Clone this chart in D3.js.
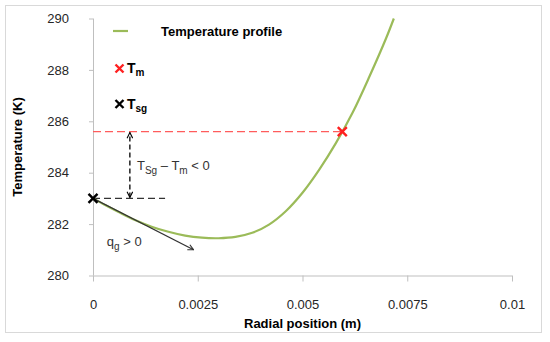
<!DOCTYPE html>
<html>
<head>
<meta charset="utf-8">
<script src="https://cdn.jsdelivr.net/npm/d3@7"></script>
<style>
  body { margin: 0; background: #fff; }
  svg { font-family: "Liberation Sans", Arial, sans-serif; }
</style>
</head>
<body>
<div class="content-container"></div>
<script>
// curve
var radius = [0, 0.0003, 0.0006, 0.001, 0.0014, 0.0018, 0.0022, 0.0026, 0.003, 0.0034,
              0.0038, 0.0042, 0.0046, 0.005, 0.0054, 0.0058, 0.0062, 0.0066, 0.007, 0.00718];
var temperature = [283.0, 282.73, 282.48, 282.16, 281.9, 281.7, 281.55, 281.47, 281.45, 281.5,
                   281.66, 281.98, 282.5, 283.22, 284.12, 285.16, 286.35, 287.75, 289.25, 290.0];

var xTicks = [0, 0.0025, 0.005, 0.0075, 0.01];
var xTickLabels = ["0", "0.0025", "0.005", "0.0075", "0.01"];
var yTicks = [280, 282, 284, 286, 288, 290];

// markers and annotations (data units)
var surfacePoint = [0, 283.0];
var meltPoint = [0.00595, 285.6];
var fluxArrowEnd = [0.0024, 281.0];
var dashEndX = 0.00172;
var diffArrowX = 0.00088;
var diffLabelPos = [0.00105, 284.3];
var fluxLabelPos = [0.00033, 281.3];

const width = 550;
const height = 342;

const xScale = d3.scaleLinear().domain([0, 0.01]).range([93, 512]);
const yScale = d3.scaleLinear().domain([280, 290]).range([275.5, 18.5]);

const chart = d3.select(".content-container")
  .append("svg")
  .attr("width", width)
  .attr("height", height);

// outer frame
chart.append("rect")
  .attr("x", 5.5).attr("y", 5.5)
  .attr("width", 536).attr("height", 327)
  .attr("fill", "#fff")
  .attr("stroke", "#d9d9d9");

// arrow heads
var defs = chart.append("defs");
function addHead(id, color) {
  defs.append("marker")
    .attr("id", id)
    .attr("viewBox", "0 0 10 10")
    .attr("refX", 9).attr("refY", 5)
    .attr("markerWidth", 7).attr("markerHeight", 7)
    .attr("markerUnits", "userSpaceOnUse")
    .attr("orient", "auto-start-reverse")
    .append("path")
    .attr("d", "M1,1 L9,5 L1,9")
    .attr("fill", "none")
    .attr("stroke", color)
    .attr("stroke-width", 1.6);
}
addHead("headDark", "#333");
addHead("headBlack", "#000");

// AXES
const xAxis = d3.axisBottom(xScale).tickValues(xTicks)
  .tickFormat((d, i) => xTickLabels[i]).tickSize(6).tickPadding(18);
const yAxis = d3.axisLeft(yScale).tickValues(yTicks).tickSize(4).tickPadding(20);

const gx = chart.append("g")
  .attr("transform", "translate(0," + yScale(280) + ")")
  .call(xAxis);
const gy = chart.append("g")
  .attr("transform", "translate(" + xScale(0) + ",0)")
  .call(yAxis);

[gx, gy].forEach(function (g) {
  g.select(".domain").attr("stroke", "#bfbfbf");
  g.selectAll(".tick line").attr("stroke", "#bfbfbf");
  g.selectAll(".tick text")
    .attr("fill", "#262626")
    .style("font-size", "13px")
    .style("font-family", "'Liberation Sans', Arial, sans-serif");
});
gy.select(".domain").attr("d", "M0.5," + yScale(280) + "V" + yScale(290));
gx.select(".domain").attr("d", "M" + xScale(0) + ",0.5H" + xScale(0.01));

chart.append("text")
  .attr("x", (xScale(0) + xScale(0.01)) / 2)
  .attr("y", 328)
  .attr("text-anchor", "middle")
  .style("font-size", "13px")
  .style("font-weight", "bold")
  .text("Radial position (m)");

chart.append("text")
  .attr("transform", "translate(22," + (yScale(285)) + ") rotate(-90)")
  .attr("text-anchor", "middle")
  .style("font-size", "13px")
  .style("font-weight", "bold")
  .text("Temperature (K)");

// DASHED GUIDES
chart.append("line")
  .attr("x1", xScale(0)).attr("y1", yScale(meltPoint[1]))
  .attr("x2", xScale(meltPoint[0])).attr("y2", yScale(meltPoint[1]))
  .attr("stroke", "#ff5c5c")
  .attr("stroke-width", 1.2)
  .attr("stroke-dasharray", "8,4");

chart.append("line")
  .attr("x1", xScale(0)).attr("y1", yScale(surfacePoint[1]))
  .attr("x2", xScale(dashEndX)).attr("y2", yScale(surfacePoint[1]))
  .attr("stroke", "#333")
  .attr("stroke-width", 1.3)
  .attr("stroke-dasharray", "7,4");

chart.append("line")
  .attr("x1", xScale(diffArrowX)).attr("y1", yScale(surfacePoint[1]) - 1)
  .attr("x2", xScale(diffArrowX)).attr("y2", yScale(meltPoint[1]) + 1)
  .attr("stroke", "#000")
  .attr("stroke-width", 1.3)
  .attr("stroke-dasharray", "5,3")
  .attr("marker-start", "url(#headBlack)")
  .attr("marker-end", "url(#headBlack)");

// TEMPERATURE PROFILE
const line = d3.line()
  .x((d, i) => xScale(radius[i]))
  .y((d) => yScale(d))
  .curve(d3.curveCatmullRom.alpha(0.5));

chart.append("path")
  .datum(temperature)
  .attr("d", line)
  .attr("fill", "none")
  .attr("stroke", "#9bbb59")
  .attr("stroke-width", 2.2);

// heat flux arrow
chart.append("line")
  .attr("x1", xScale(surfacePoint[0])).attr("y1", yScale(surfacePoint[1]))
  .attr("x2", xScale(fluxArrowEnd[0])).attr("y2", yScale(fluxArrowEnd[1]))
  .attr("stroke", "#333")
  .attr("stroke-width", 1.2)
  .attr("marker-end", "url(#headDark)");

// MARKERS
function cross(x, y, color, s) {
  chart.append("path")
    .attr("d", "M" + (x - s) + "," + (y - s) + "L" + (x + s) + "," + (y + s) +
               "M" + (x - s) + "," + (y + s) + "L" + (x + s) + "," + (y - s))
    .attr("stroke", color)
    .attr("stroke-width", 2.4)
    .attr("fill", "none");
}
cross(xScale(surfacePoint[0]), yScale(surfacePoint[1]), "#000", 4.5);
cross(xScale(meltPoint[0]), yScale(meltPoint[1]), "#ff2020", 4.5);

// ANNOTATION TEXT
var diffLabel = chart.append("text")
  .attr("x", xScale(diffLabelPos[0]))
  .attr("y", yScale(diffLabelPos[1]) + 5)
  .attr("fill", "#333")
  .style("font-size", "13px");
diffLabel.append("tspan").text("T");
diffLabel.append("tspan").attr("dy", 4).style("font-size", "10px").text("Sg");
diffLabel.append("tspan").attr("dy", -4).text(" \u2013 T");
diffLabel.append("tspan").attr("dy", 4).style("font-size", "10px").text("m");
diffLabel.append("tspan").attr("dy", -4).text(" < 0");

var fluxLabel = chart.append("text")
  .attr("x", xScale(fluxLabelPos[0]))
  .attr("y", yScale(fluxLabelPos[1]) + 4)
  .attr("fill", "#333")
  .style("font-size", "13px");
fluxLabel.append("tspan").text("q");
fluxLabel.append("tspan").attr("dy", 4).style("font-size", "10px").text("g");
fluxLabel.append("tspan").attr("dy", -4).text(" > 0");

// LEGEND
chart.append("line")
  .attr("x1", 113).attr("y1", 31).attr("x2", 128).attr("y2", 31)
  .attr("stroke", "#9bbb59").attr("stroke-width", 2.2);
chart.append("text")
  .attr("x", 161).attr("y", 35.5)
  .style("font-size", "13px").style("font-weight", "bold")
  .text("Temperature profile");

cross(119.5, 68.5, "#ff2020", 4);
var lm = chart.append("text").attr("x", 127).attr("y", 73)
  .style("font-size", "14px").style("font-weight", "bold");
lm.append("tspan").text("T");
lm.append("tspan").attr("dy", 3).style("font-size", "10px").text("m");

cross(119.5, 104, "#000", 4);
var ls = chart.append("text").attr("x", 127).attr("y", 108.5)
  .style("font-size", "14px").style("font-weight", "bold");
ls.append("tspan").text("T");
ls.append("tspan").attr("dy", 3).style("font-size", "10px").text("sg");
</script>
</body>
</html>
